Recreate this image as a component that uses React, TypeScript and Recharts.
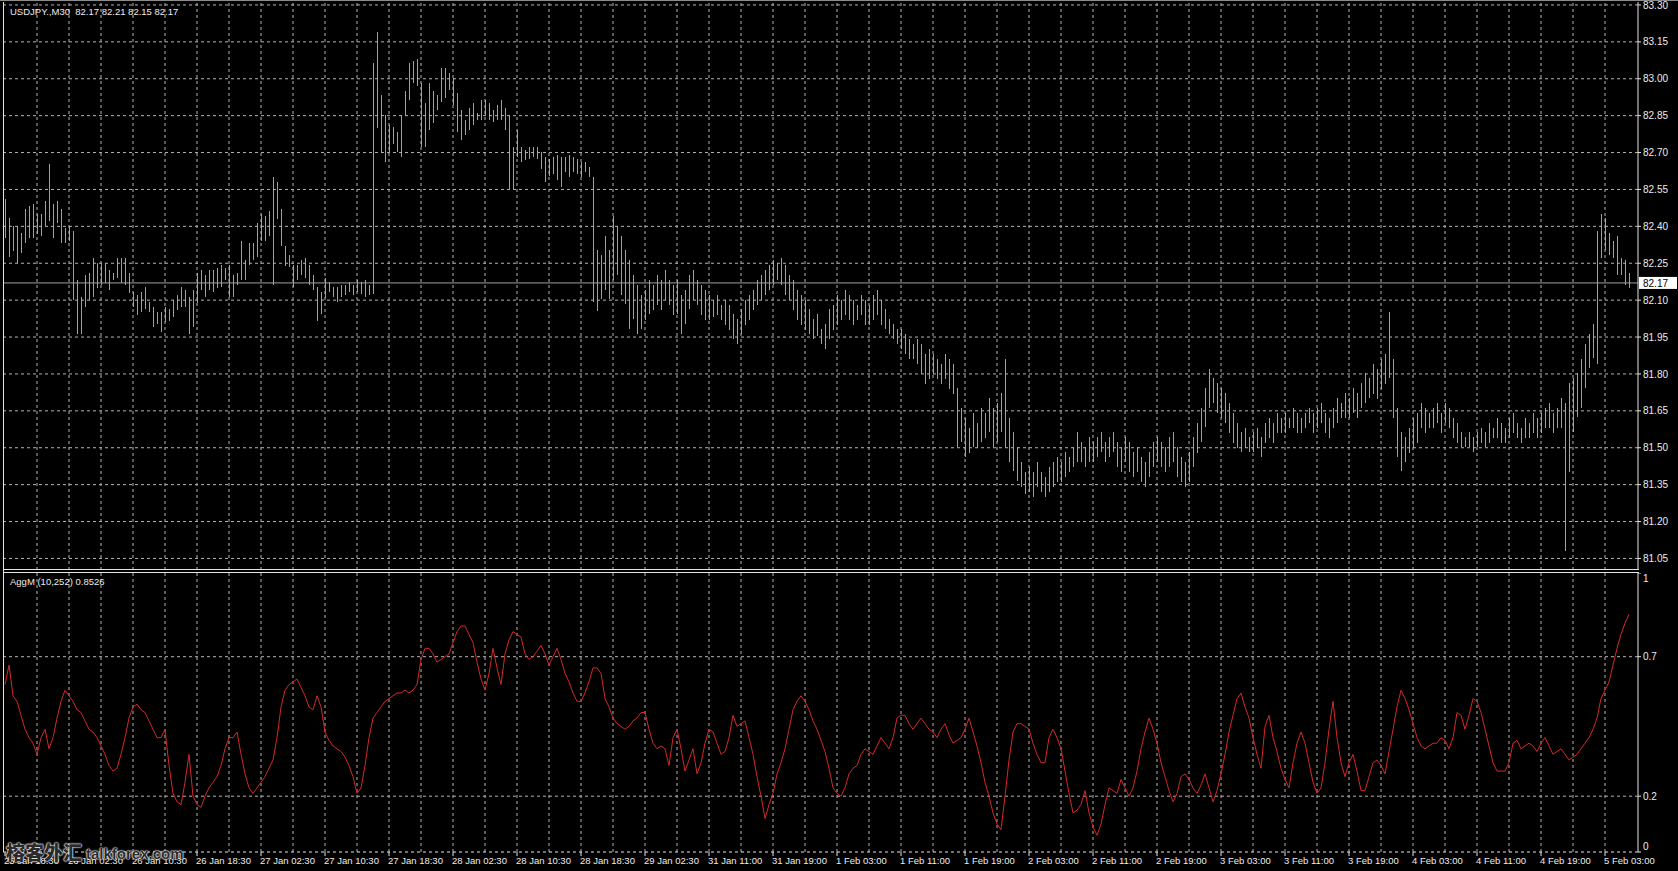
import { Bar, ComposedChart, Line, ReferenceLine, XAxis, YAxis } from "recharts";

// USDJPY M30 bars, high / low per bar (oldest first)
const highs = [
  82.51, 82.43, 82.40, 82.40, 82.37, 82.47, 82.48, 82.49,
  82.45, 82.45, 82.50, 82.65, 82.49, 82.50, 82.47, 82.39,
  82.40, 82.38, 82.18, 82.11, 82.20, 82.21, 82.27, 82.25,
  82.25, 82.25, 82.22, 82.21, 82.27, 82.27, 82.27, 82.21,
  82.13, 82.12, 82.13, 82.15, 82.09, 82.07, 82.05, 82.05,
  82.07, 82.06, 82.10, 82.12, 82.15, 82.14, 82.11, 82.14,
  82.21, 82.22, 82.20, 82.22, 82.22, 82.23, 82.24, 82.23,
  82.24, 82.20, 82.21, 82.34, 82.26, 82.33, 82.33, 82.41,
  82.45, 82.44, 82.46, 82.60, 82.58, 82.47, 82.32, 82.28,
  82.24, 82.24, 82.26, 82.27, 82.24, 82.20, 82.15, 82.13,
  82.19, 82.17, 82.15, 82.15, 82.16, 82.16, 82.17, 82.16,
  82.18, 82.17, 82.18, 82.16, 83.06, 83.19, 82.93, 82.85,
  82.81, 82.80, 82.78, 82.85, 82.95, 83.06, 83.07, 83.08,
  82.98, 82.90, 82.98, 82.95, 82.93, 83.04, 83.04, 83.02,
  83.00, 82.94, 82.87, 82.83, 82.88, 82.90, 82.86, 82.91,
  82.91, 82.90, 82.87, 82.89, 82.91, 82.88, 82.85, 82.72,
  82.79, 82.72, 82.71, 82.72, 82.72, 82.72, 82.70, 82.68,
  82.67, 82.68, 82.69, 82.68, 82.68, 82.69, 82.68, 82.67,
  82.66, 82.66, 82.64, 82.60, 82.30, 82.28, 82.36, 82.30,
  82.44, 82.40, 82.36, 82.30, 82.26, 82.20, 82.16, 82.12,
  82.14, 82.18, 82.16, 82.20, 82.18, 82.22, 82.18, 82.16,
  82.18, 82.12, 82.14, 82.20, 82.22, 82.18, 82.16, 82.14,
  82.12, 82.10, 82.12, 82.08, 82.10, 82.08, 82.04, 82.02,
  82.06, 82.10, 82.12, 82.14, 82.18, 82.20, 82.22, 82.24,
  82.26, 82.25, 82.27, 82.24, 82.20, 82.18, 82.14, 82.12,
  82.10, 82.06, 82.02, 82.04, 81.98, 82.00, 82.06, 82.08,
  82.12, 82.10, 82.14, 82.12, 82.10, 82.08, 82.12, 82.10,
  82.08, 82.12, 82.14, 82.10, 82.06, 82.02, 82.00, 81.98,
  81.98, 81.96, 81.94, 81.92, 81.94, 81.92, 81.88, 81.90,
  81.88, 81.86, 81.84, 81.88, 81.86, 81.84, 81.74, 81.66,
  81.62, 81.58, 81.64, 81.60, 81.66, 81.64, 81.70, 81.66,
  81.68, 81.72, 81.86, 81.62, 81.56, 81.50, 81.44, 81.40,
  81.42, 81.40, 81.44, 81.40, 81.38, 81.42, 81.44, 81.46,
  81.44, 81.48, 81.46, 81.50, 81.56, 81.52, 81.50, 81.54,
  81.52, 81.54, 81.56, 81.52, 81.54, 81.56, 81.52, 81.50,
  81.54, 81.52, 81.48, 81.50, 81.46, 81.44, 81.48, 81.52,
  81.54, 81.52, 81.50, 81.54, 81.56, 81.50, 81.46, 81.44,
  81.48, 81.54, 81.60, 81.66, 81.74, 81.82, 81.78, 81.76,
  81.74, 81.72, 81.68, 81.64, 81.60, 81.56, 81.58, 81.54,
  81.56, 81.58, 81.54, 81.60, 81.62, 81.60, 81.64, 81.62,
  81.64, 81.62, 81.66, 81.64, 81.62, 81.64, 81.66, 81.64,
  81.66, 81.68, 81.64, 81.62, 81.66, 81.70, 81.68, 81.72,
  81.70, 81.74, 81.72, 81.76, 81.80, 81.78, 81.84, 81.82,
  81.86, 81.88, 82.05, 81.86, 81.66, 81.56, 81.54, 81.58,
  81.62, 81.64, 81.68, 81.66, 81.64, 81.66, 81.68, 81.64,
  81.68, 81.66, 81.62, 81.60, 81.56, 81.54, 81.56, 81.54,
  81.56, 81.58, 81.56, 81.60, 81.58, 81.62, 81.60, 81.58,
  81.62, 81.64, 81.60, 81.58, 81.62, 81.60, 81.64, 81.62,
  81.64, 81.66, 81.68, 81.64, 81.66, 81.70, 81.68, 81.76,
  81.78, 81.80, 81.86, 81.92, 81.96, 82.00, 82.38, 82.45,
  82.43, 82.37, 82.34, 82.36, 82.27, 82.26, 82.21,
];

const lows = [
  82.35, 82.27, 82.30, 82.25, 82.29, 82.33, 82.35, 82.35,
  82.37, 82.36, 82.40, 82.42, 82.35, 82.41, 82.33, 82.33,
  82.34, 82.10, 81.96, 81.96, 82.07, 82.10, 82.11, 82.15,
  82.16, 82.17, 82.14, 82.18, 82.19, 82.17, 82.16, 82.13,
  82.07, 82.04, 82.05, 82.06, 82.05, 81.99, 82.00, 81.97,
  82.01, 82.01, 82.03, 82.06, 82.07, 82.07, 81.96, 81.99,
  82.09, 82.14, 82.11, 82.14, 82.13, 82.15, 82.15, 82.18,
  82.11, 82.11, 82.16, 82.18, 82.18, 82.24, 82.26, 82.27,
  82.34, 82.34, 82.36, 82.16, 82.43, 82.32, 82.24, 82.23,
  82.15, 82.18, 82.20, 82.19, 82.16, 82.14, 82.01, 82.04,
  82.11, 82.13, 82.11, 82.09, 82.11, 82.12, 82.13, 82.12,
  82.13, 82.12, 82.11, 82.12, 82.12, 82.80, 82.70, 82.66,
  82.70, 82.73, 82.70, 82.68, 82.85, 82.91, 82.98, 82.97,
  82.72, 82.72, 82.79, 82.82, 82.87, 82.90, 82.92, 82.95,
  82.89, 82.78, 82.75, 82.77, 82.79, 82.81, 82.83, 82.83,
  82.85, 82.83, 82.82, 82.83, 82.83, 82.79, 82.55, 82.55,
  82.68, 82.66, 82.67, 82.67, 82.68, 82.67, 82.63, 82.58,
  82.60, 82.61, 82.59, 82.56, 82.62, 82.60, 82.62, 82.61,
  82.60, 82.62, 82.60, 82.09, 82.05, 82.10, 82.14, 82.10,
  82.18, 82.20, 82.12, 82.08, 81.98, 82.02, 81.96, 81.98,
  82.02, 82.04, 82.06, 82.08, 82.06, 82.10, 82.08, 82.04,
  82.04, 81.96, 82.00, 82.06, 82.10, 82.08, 82.04, 82.02,
  82.02, 82.03, 82.04, 82.02, 82.00, 81.98, 81.94, 81.92,
  81.96, 82.00, 82.02, 82.06, 82.08, 82.10, 82.12, 82.14,
  82.16, 82.18, 82.16, 82.12, 82.10, 82.06, 82.02, 82.00,
  81.98, 81.96, 81.94, 81.95, 81.92, 81.90, 81.94, 81.98,
  82.00, 82.02, 82.04, 82.02, 82.00, 82.02, 82.04, 82.00,
  82.00, 82.02, 82.04, 82.00, 81.98, 81.96, 81.94, 81.92,
  81.90, 81.88, 81.86, 81.86, 81.84, 81.80, 81.76, 81.78,
  81.80, 81.78, 81.76, 81.78, 81.74, 81.72, 81.50, 81.52,
  81.46, 81.48, 81.50, 81.50, 81.52, 81.54, 81.56, 81.50,
  81.52, 81.56, 81.50, 81.44, 81.40, 81.36, 81.34, 81.31,
  81.32, 81.30, 81.34, 81.32, 81.30, 81.32, 81.34, 81.36,
  81.36, 81.38, 81.40, 81.42, 81.44, 81.44, 81.42, 81.44,
  81.44, 81.46, 81.48, 81.44, 81.46, 81.48, 81.42, 81.40,
  81.44, 81.40, 81.38, 81.40, 81.36, 81.34, 81.38, 81.42,
  81.44, 81.42, 81.40, 81.42, 81.44, 81.38, 81.36, 81.34,
  81.36, 81.42, 81.48, 81.52, 81.58, 81.66, 81.68, 81.64,
  81.62, 81.60, 81.56, 81.52, 81.50, 81.48, 81.50, 81.48,
  81.48, 81.50, 81.46, 81.52, 81.54, 81.52, 81.56, 81.56,
  81.56, 81.58, 81.58, 81.56, 81.56, 81.58, 81.60, 81.56,
  81.58, 81.60, 81.56, 81.54, 81.58, 81.60, 81.62, 81.62,
  81.62, 81.64, 81.62, 81.66, 81.68, 81.70, 81.72, 81.70,
  81.74, 81.76, 81.78, 81.62, 81.46, 81.40, 81.44, 81.48,
  81.50, 81.52, 81.58, 81.56, 81.58, 81.58, 81.60, 81.56,
  81.60, 81.58, 81.54, 81.52, 81.50, 81.50, 81.50, 81.48,
  81.50, 81.52, 81.50, 81.52, 81.54, 81.54, 81.52, 81.52,
  81.54, 81.56, 81.54, 81.52, 81.54, 81.54, 81.56, 81.54,
  81.56, 81.58, 81.58, 81.56, 81.58, 81.58, 81.08, 81.40,
  81.56, 81.62, 81.66, 81.74, 81.82, 81.86, 81.84, 82.27,
  82.30, 82.28, 82.27, 82.20, 82.20, 82.16, 82.15,
];

// AggM (10,252) indicator, one value per bar
const aggm = [
  0.60, 0.67, 0.56, 0.54, 0.49, 0.44, 0.41, 0.39,
  0.35, 0.41, 0.44, 0.37, 0.41, 0.48, 0.54, 0.58,
  0.56, 0.54, 0.51, 0.50, 0.47, 0.44, 0.43, 0.41,
  0.38, 0.35, 0.31, 0.29, 0.30, 0.35, 0.41, 0.48,
  0.52, 0.53, 0.51, 0.50, 0.47, 0.44, 0.41, 0.41,
  0.44, 0.31, 0.21, 0.18, 0.17, 0.25, 0.35, 0.20,
  0.17, 0.16, 0.20, 0.23, 0.25, 0.27, 0.31, 0.37,
  0.41, 0.41, 0.43, 0.35, 0.28, 0.23, 0.21, 0.23,
  0.25, 0.27, 0.30, 0.33, 0.41, 0.52, 0.58, 0.60,
  0.61, 0.62, 0.59, 0.56, 0.52, 0.51, 0.56, 0.52,
  0.43, 0.40, 0.38, 0.37, 0.36, 0.34, 0.31, 0.27,
  0.21, 0.23, 0.31, 0.41, 0.48, 0.50, 0.52, 0.54,
  0.55, 0.56, 0.57, 0.57, 0.58, 0.57, 0.58, 0.60,
  0.69, 0.73, 0.73, 0.71, 0.68, 0.69, 0.70, 0.71,
  0.75, 0.79, 0.81, 0.81, 0.78, 0.75, 0.68, 0.62,
  0.58, 0.64, 0.73, 0.66, 0.60, 0.71, 0.76, 0.79,
  0.78, 0.77, 0.71, 0.69, 0.70, 0.72, 0.74, 0.71,
  0.67, 0.70, 0.73, 0.69, 0.64, 0.61, 0.57, 0.54,
  0.54, 0.57, 0.61, 0.66, 0.66, 0.64, 0.55, 0.52,
  0.48, 0.46, 0.45, 0.44, 0.45, 0.47, 0.48, 0.50,
  0.50, 0.44, 0.39, 0.37, 0.38, 0.37, 0.31, 0.41,
  0.44, 0.37, 0.29, 0.33, 0.37, 0.28, 0.32, 0.39,
  0.44, 0.43, 0.39, 0.35, 0.36, 0.41, 0.49, 0.45,
  0.46, 0.47, 0.41, 0.35, 0.27, 0.20, 0.12, 0.17,
  0.21, 0.28, 0.32, 0.37, 0.44, 0.51, 0.54, 0.56,
  0.54, 0.51, 0.47, 0.44, 0.40, 0.36, 0.30, 0.23,
  0.21, 0.20, 0.23, 0.28, 0.30, 0.31, 0.35, 0.37,
  0.36, 0.35, 0.38, 0.41, 0.39, 0.37, 0.41, 0.48,
  0.49, 0.49, 0.46, 0.44, 0.46, 0.48, 0.46, 0.44,
  0.43, 0.41, 0.44, 0.46, 0.42, 0.39, 0.40, 0.41,
  0.44, 0.48, 0.43, 0.38, 0.32, 0.25, 0.20, 0.14,
  0.10, 0.08, 0.20, 0.33, 0.43, 0.46, 0.46, 0.45,
  0.44, 0.39, 0.35, 0.32, 0.32, 0.41, 0.44, 0.41,
  0.37, 0.29, 0.21, 0.14, 0.15, 0.17, 0.22, 0.14,
  0.09, 0.06, 0.10, 0.17, 0.23, 0.22, 0.21, 0.26,
  0.23, 0.20, 0.23, 0.29, 0.37, 0.43, 0.48, 0.44,
  0.39, 0.32, 0.27, 0.22, 0.18, 0.21, 0.27, 0.28,
  0.26, 0.23, 0.21, 0.24, 0.28, 0.23, 0.18, 0.22,
  0.28, 0.35, 0.43, 0.49, 0.55, 0.57, 0.52, 0.48,
  0.41, 0.35, 0.30, 0.45, 0.49, 0.41, 0.36, 0.30,
  0.26, 0.23, 0.32, 0.39, 0.43, 0.39, 0.32, 0.25,
  0.21, 0.23, 0.32, 0.44, 0.54, 0.41, 0.32, 0.27,
  0.32, 0.35, 0.29, 0.22, 0.22, 0.27, 0.32, 0.33,
  0.31, 0.28, 0.36, 0.44, 0.52, 0.58, 0.55, 0.51,
  0.46, 0.41, 0.38, 0.37, 0.38, 0.39, 0.39, 0.41,
  0.40, 0.37, 0.41, 0.50, 0.49, 0.44, 0.49, 0.55,
  0.54, 0.50, 0.44, 0.38, 0.32, 0.29, 0.29, 0.29,
  0.32, 0.39, 0.40, 0.37, 0.38, 0.39, 0.38, 0.36,
  0.39, 0.41, 0.38, 0.35, 0.36, 0.37, 0.35, 0.33,
  0.34, 0.35, 0.37, 0.39, 0.41, 0.44, 0.48, 0.55,
  0.58, 0.61, 0.67, 0.73, 0.78, 0.82, 0.8526,
];

// one label every 16 bars, starting at bar 0
const timeLabels = [
  "25 Jan 18:30", "26 Jan 02:30", "26 Jan 10:30", "26 Jan 18:30", "27 Jan 02:30",
  "27 Jan 10:30", "27 Jan 18:30", "28 Jan 02:30", "28 Jan 10:30", "28 Jan 18:30",
  "29 Jan 02:30", "31 Jan 11:00", "31 Jan 19:00", "1 Feb 03:00", "1 Feb 11:00",
  "1 Feb 19:00", "2 Feb 03:00", "2 Feb 11:00", "2 Feb 19:00", "3 Feb 03:00",
  "3 Feb 11:00", "3 Feb 19:00", "4 Feb 03:00", "4 Feb 11:00", "4 Feb 19:00",
  "5 Feb 03:00",
];

const priceTicks = [81.05, 81.2, 81.35, 81.5, 81.65, 81.8, 81.95, 82.1, 82.25, 82.4, 82.55, 82.7, 82.85, 83.0, 83.15, 83.3];
const aggTicks = [0, 0.2, 0.7, 1];
const lastQuote = [82.17, 82.21, 82.15, 82.17]; // O H L C of the last bar

const W = 1678;
const FONT = '"Liberation Sans", Arial, sans-serif';
const GRID = "#b4b4b4";
const FRAME = "#e4e4e4";
const TEXT = "#ececec";
const BAR_GREEN = "#55d455";
const LINE_RED = "#d42828";

const priceData = highs.map((h, i) => ({ i, range: [lows[i], h] }));
const aggData = aggm.map((v, i) => ({ i, v }));
const gridBars = priceData.filter((d) => d.i > 0 && d.i % 8 === 0).map((d) => d.i);
const labelBars = timeLabels.map((_, k) => k * 16);

const HLBar = (props: any) => {
  const { x, y, width, height } = props;
  if (x == null || y == null) return null;
  return (
    <rect
      x={Math.floor(x + width / 2)}
      y={Math.floor(y)}
      width={1}
      height={Math.max(1, Math.round(height))}
      fill={BAR_GREEN}
    />
  );
};

const PriceTick = ({ x, y, payload }: any) => (
  <text x={x} y={y} dy="0.36em" fill={TEXT} fontSize={10} fontFamily={FONT} textAnchor="start">
    {Number(payload.value).toFixed(2)}
  </text>
);

const AggTick = ({ x, y, payload }: any) => {
  const v = Number(payload.value);
  const shift = v === 1 ? 5 : v === 0 ? -6 : 0;
  return (
    <text x={x} y={y + shift} dy="0.36em" fill={TEXT} fontSize={10} fontFamily={FONT} textAnchor="start">
      {String(v)}
    </text>
  );
};

const TimeTick = ({ x, y, payload }: any) => (
  <text x={x - 1} y={y} dy="0.75em" fill={TEXT} fontSize={9.5} fontFamily={FONT} textAnchor="start">
    {timeLabels[Math.round(payload.value / 16)]}
  </text>
);

const PriceTag = (props: any) => {
  const vb = props.viewBox || {};
  const left = vb.x + vb.width + 1;
  return (
    <g>
      <rect x={left} y={vb.y - 6} width={38} height={12} fill="#ffffff" />
      <text x={left + 4} y={vb.y} dy="0.36em" fontSize={10} fontFamily={FONT} fill="#000">
        {lastQuote[3].toFixed(2)}
      </text>
    </g>
  );
};

const line = (style: any) => <div style={{ position: "absolute", background: FRAME, ...style }} />;

export default function App() {
  return (
    <div
      style={{
        position: "absolute",
        left: 0,
        top: 0,
        width: W,
        height: 871,
        background: "#000",
        overflow: "hidden",
        fontFamily: FONT,
      }}
    >
      <div style={{ position: "absolute", left: 0, top: 0 }}>
        <ComposedChart width={W} height={570} data={priceData} margin={{ top: 2, right: 0, bottom: 0, left: 3 }}>
          <XAxis dataKey="i" type="category" scale="band" hide padding={{ left: 0, right: 7 }} />
          <YAxis
            orientation="right"
            width={40}
            domain={[81.003, 83.312]}
            allowDataOverflow
            ticks={priceTicks}
            interval={0}
            tick={<PriceTick />}
            tickSize={3}
            tickMargin={2}
            axisLine={{ stroke: FRAME }}
            tickLine={{ stroke: FRAME }}
          />
          {priceTicks.map((p) => (
            <ReferenceLine key={"h" + p} y={p} stroke={GRID} strokeDasharray="3 3" />
          ))}
          {gridBars.map((b) => (
            <ReferenceLine key={"v" + b} x={b} stroke={GRID} strokeDasharray="3 3" />
          ))}
          <ReferenceLine y={lastQuote[3]} stroke="#a0a0a0" label={<PriceTag />} ifOverflow="visible" />
          <Bar dataKey="range" barSize={1} shape={<HLBar />} isAnimationActive={false} />
        </ComposedChart>
      </div>

      <div style={{ position: "absolute", left: 0, top: 573 }}>
        <ComposedChart width={W} height={298} data={aggData} margin={{ top: 0, right: 0, bottom: 0, left: 3 }}>
          <XAxis
            dataKey="i"
            type="category"
            scale="band"
            padding={{ left: 0, right: 7 }}
            ticks={labelBars}
            interval={0}
            tick={<TimeTick />}
            height={19}
            tickSize={4}
            tickMargin={1}
            axisLine={{ stroke: FRAME, strokeDasharray: "3 3" }}
            tickLine={{ stroke: FRAME }}
          />
          <YAxis
            orientation="right"
            width={40}
            domain={[0, 1]}
            allowDataOverflow
            ticks={aggTicks}
            interval={0}
            tick={<AggTick />}
            tickSize={3}
            tickMargin={2}
            axisLine={{ stroke: FRAME }}
            tickLine={{ stroke: FRAME }}
          />
          {aggTicks
            .filter((v) => v > 0 && v < 1)
            .map((v) => (
              <ReferenceLine key={"h" + v} y={v} stroke={GRID} strokeDasharray="3 3" />
            ))}
          {gridBars.map((b) => (
            <ReferenceLine key={"v" + b} x={b} stroke={GRID} strokeDasharray="3 3" />
          ))}
          <Line type="linear" dataKey="v" stroke={LINE_RED} strokeWidth={1} dot={false} isAnimationActive={false} />
        </ComposedChart>
      </div>

      {line({ left: 0, top: 0, width: W, height: 1, background: "#8c8c8c" })}
      {line({ left: 3, top: 2, width: 1, height: 850 })}
      {line({ left: 3, top: 569, width: 1636, height: 1 })}
      {line({ left: 3, top: 572, width: 1636, height: 1 })}

      <div
        style={{
          position: "absolute",
          left: 10,
          top: 6,
          color: TEXT,
          fontSize: 9.5,
          lineHeight: "11px",
          whiteSpace: "pre",
        }}
      >
        {"USDJPY.,M30  " + lastQuote.map((q) => q.toFixed(2)).join(" ")}
      </div>
      <div
        style={{
          position: "absolute",
          left: 10,
          top: 576,
          color: TEXT,
          fontSize: 9.5,
          lineHeight: "11px",
          whiteSpace: "pre",
        }}
      >
        {"AggM (10,252) " + aggm[aggm.length - 1].toFixed(4)}
      </div>

      <div
        style={{
          position: "absolute",
          left: 6,
          top: 840,
          display: "flex",
          alignItems: "flex-end",
          gap: 4,
          color: "#2a2a2a",
          textShadow: "0 0 1px #fff, 0 0 2px #fff, 0 0 2px #fff",
          whiteSpace: "pre",
        }}
      >
        <span style={{ fontFamily: '"Noto Sans CJK SC", sans-serif', fontWeight: 900, fontSize: 19, lineHeight: "24px" }}>
          榕客外汇
        </span>
        <span style={{ fontFamily: FONT, fontWeight: 700, fontSize: 15, lineHeight: "20px" }}>talkforex.com</span>
      </div>
    </div>
  );
}
